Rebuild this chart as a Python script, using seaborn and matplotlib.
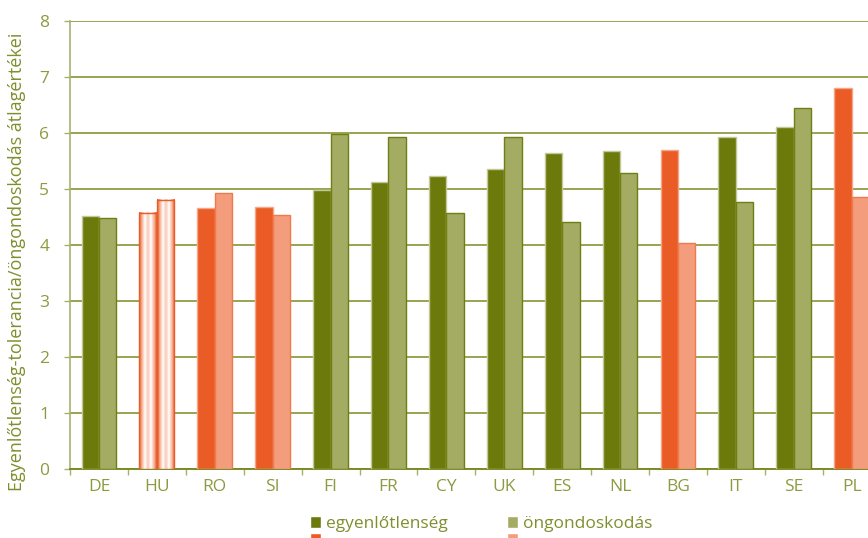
import numpy as np
import pandas as pd
import seaborn as sns
import matplotlib
matplotlib.use("Agg")
import matplotlib.pyplot as plt
from matplotlib.patches import Patch
from matplotlib.colors import LinearSegmentedColormap

countries = ["DE", "HU", "RO", "SI", "FI", "FR", "CY", "UK", "ES", "NL", "BG", "IT", "SE", "PL"]
egyenlotlenseg = [4.52, 4.58, 4.66, 4.68, 4.98, 5.12, 5.23, 5.36, 5.65, 5.67, 5.69, 5.93, 6.11, 6.81]
ongondoskodas = [4.49, 4.81, 4.92, 4.53, 5.98, 5.93, 4.57, 5.93, 4.41, 5.29, 4.04, 4.76, 6.44, 4.85]
group = ["green", "gradient", "orange", "orange", "green", "green", "green", "green",
         "green", "green", "orange", "green", "green", "orange"]
series_names = ["egyenlőtlenség", "öngondoskodás"]
y_ticks = [0, 1, 2, 3, 4, 5, 6, 7, 8]
y_label = "Egyenlőtlenség-tolerancia/öngondoskodás átlagértékei"

DARK_GREEN = "#6B7A0B"
LIGHT_GREEN = "#A4AB63"
ORANGE = "#EB5B25"
LIGHT_ORANGE = "#F49D7C"
OLIVE = "#7B8B23"
PALE_OLIVE = "#A9B06E"
TEXT = "#8C9B3F"

sns.set_theme(style="white")
plt.rcParams["font.family"] = ["Open Sans", "DejaVu Sans"]

df = pd.DataFrame({
    "country": countries * 2,
    "value": egyenlotlenseg + ongondoskodas,
    "series": [series_names[0]] * len(countries) + [series_names[1]] * len(countries),
})

fig = plt.figure(figsize=(8.68, 5.38), dpi=100)
ax = fig.add_axes([70 / 868, 69 / 538, 810.6 / 868, 448 / 538])

sns.barplot(data=df, x="country", y="value", hue="series", order=countries,
            hue_order=series_names, palette=[DARK_GREEN, LIGHT_GREEN],
            width=0.6, saturation=1, legend=False, ax=ax, zorder=3)

n = len(countries)
patches = list(ax.patches)
grad_cmap = LinearSegmentedColormap.from_list(
    "hu", ["#EB5B25", "#F6B59A", "#FFFFFF", "#F8C7B2", "#FFFFFF", "#F7BBA2", "#EB5B25"])
for s in range(2):
    for i in range(n):
        p = patches[s * n + i]
        g = group[i]
        if g == "green":
            p.set_facecolor(DARK_GREEN if s == 0 else LIGHT_GREEN)
            p.set_edgecolor("#C4C898" if s == 0 else "#6F7F12")
        else:
            p.set_facecolor(ORANGE if s == 0 else LIGHT_ORANGE)
            p.set_edgecolor("#F5A688" if s == 0 else "#EE7A4E")
        p.set_linewidth(1.0)
        if g == "gradient":
            x0 = p.get_x()
            w = p.get_width()
            h = p.get_height()
            grad = np.linspace(0, 1, 64).reshape(1, -1)
            ax.imshow(grad, extent=(x0, x0 + w, 0, h), aspect="auto",
                      cmap=grad_cmap, zorder=3.5, origin="lower")
            p.set_facecolor("none")
            p.set_edgecolor(ORANGE)
            p.set_zorder(4)

ax.set_xlim(-0.5, n - 0.5)
ax.set_ylim(0, 8)
ax.set_yticks(y_ticks)
ax.set_axisbelow(True)
ax.yaxis.grid(True, color=OLIVE, linewidth=1.1)
ax.xaxis.grid(False)

for sp in ["top", "right"]:
    ax.spines[sp].set_visible(False)
ax.spines["left"].set_color(PALE_OLIVE)
ax.spines["left"].set_linewidth(1.2)
ax.spines["bottom"].set_color(OLIVE)
ax.spines["bottom"].set_linewidth(1.4)

ax.set_xticks(np.arange(-0.5, n, 1.0), minor=True)
ax.tick_params(axis="x", which="minor", bottom=True, length=4, width=1, color=PALE_OLIVE, direction="out")
ax.tick_params(axis="x", which="major", bottom=False, length=0, pad=7, labelsize=12.5, labelcolor=TEXT)
ax.tick_params(axis="y", which="major", left=True, length=4, width=1, color=PALE_OLIVE,
               direction="out", pad=11, labelsize=12.5, labelcolor=TEXT)
ax.set_xlabel("")
ax.set_ylabel("")

fig.text(17 / 868, 1 - 262 / 538, y_label, rotation=90, va="center", ha="center",
         fontsize=13, color="#7E8F2E")

handles = [Patch(facecolor=DARK_GREEN), Patch(facecolor=ORANGE),
           Patch(facecolor=LIGHT_GREEN), Patch(facecolor=LIGHT_ORANGE)]
labels = [series_names[0], "", series_names[1], ""]
fig.legend(handles, labels, ncol=2, loc="upper left", bbox_to_anchor=(310 / 868, 1 - 516 / 538),
           frameon=False, handlelength=0.62, handleheight=0.62, labelspacing=0.05,
           handletextpad=0.3, columnspacing=3.4, fontsize=12.5, labelcolor="#7E8F2E",
           borderaxespad=0, borderpad=0)

fig.savefig("out.png", dpi=100)
